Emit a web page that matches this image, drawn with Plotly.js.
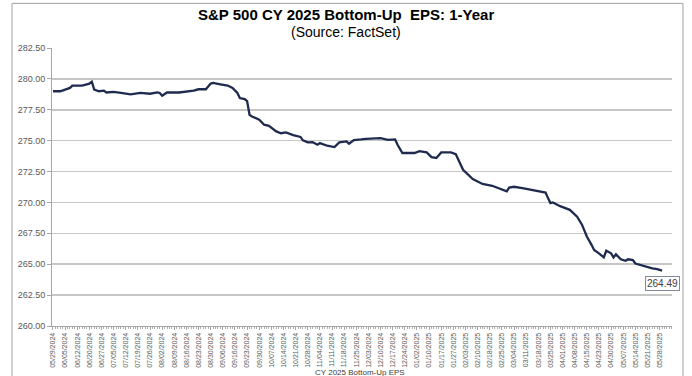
<!DOCTYPE html>
<html>
<head>
<meta charset="utf-8">
<script src="https://cdn.plot.ly/plotly-3.0.1.min.js"></script>
<style>html,body{margin:0;padding:0;background:#fff;}#chart{width:692px;height:376px;}</style>
</head>
<body>
<div id="chart"></div>
<script>
// Trading-day index (0 = 05/29/2024) and CY2025 bottom-up EPS values
const dayIndex = [0,3,7,8,12,15,16,17,19,21,22,25,28,32,36,40,43,44,45,47,52,55,58,60,63,65,66,69,72,74,76,77,79,80,81,82,85,87,89,92,94,96,99,102,103,105,107,109,110,113,116,118,121,122,124,127,129,135,138,141,142,144,149,151,154,156,158,160,164,166,169,173,177,181,186,187,188,190,194,197,201,203,204,205,206,209,213,216,218,220,222,223,225,227,228,230,231,232,234,236,237,239,240,242,245,247,249,251];
const epsValues = [279.00,279.00,279.27,279.46,279.46,279.62,279.78,279.13,279.00,279.05,278.90,278.95,278.86,278.75,278.86,278.80,278.90,278.86,278.64,278.90,278.90,278.95,279.05,279.16,279.16,279.62,279.67,279.56,279.46,279.27,278.86,278.45,278.37,278.20,277.10,276.96,276.70,276.29,276.20,275.75,275.60,275.67,275.45,275.30,275.02,274.86,274.88,274.67,274.80,274.59,274.48,274.86,274.94,274.75,275.05,275.10,275.15,275.20,275.07,275.10,274.67,274.00,274.00,274.15,274.05,273.67,273.60,274.05,274.05,273.90,272.64,271.90,271.50,271.35,271.02,270.90,271.20,271.27,271.13,271.00,270.88,270.80,270.35,269.95,270.00,269.70,269.40,268.85,268.20,267.24,266.55,266.15,265.88,265.55,266.09,265.88,265.55,265.80,265.40,265.28,265.40,265.33,265.06,264.94,264.80,264.66,264.60,264.49];
const tickIndex = [0,5,10,15,20,25,30,35,40,45,50,55,60,65,70,75,80,85,90,95,100,105,110,115,120,125,130,135,140,145,150,155,160,165,170,175,180,185,190,195,200,205,210,215,220,225,230,235,240,245,250];
const tickLabels = ["05/29/2024","06/05/2024","06/12/2024","06/20/2024","06/27/2024","07/05/2024","07/12/2024","07/19/2024","07/26/2024","08/02/2024","08/09/2024","08/16/2024","08/23/2024","08/30/2024","09/06/2024","09/16/2024","09/23/2024","09/30/2024","10/07/2024","10/14/2024","10/21/2024","10/28/2024","11/04/2024","11/11/2024","11/18/2024","11/25/2024","12/03/2024","12/10/2024","12/17/2024","12/24/2024","01/02/2025","01/10/2025","01/17/2025","01/27/2025","02/03/2025","02/10/2025","02/18/2025","02/25/2025","03/04/2025","03/11/2025","03/18/2025","03/25/2025","04/01/2025","04/08/2025","04/15/2025","04/23/2025","04/30/2025","05/07/2025","05/14/2025","05/21/2025","05/28/2025"];
const seriesName = "CY 2025 Bottom-Up EPS";
const chartTitle = "S&P 500 CY 2025 Bottom-Up  EPS: 1-Year";
const chartSubtitle = "(Source: FactSet)";
const lastValue = epsValues[epsValues.length-1];
const lastIndex = dayIndex[dayIndex.length-1];

const trace = {
  x: dayIndex, y: epsValues, type: 'scatter', mode: 'lines', name: seriesName,
  line: {color: '#1f2b4e', width: 2.3}, hoverinfo: 'skip'
};

const layout = {
  width: 692, height: 376,
  margin: {l: 52, r: 20, t: 48, b: 50},
  paper_bgcolor: '#ffffff', plot_bgcolor: '#ffffff',
  showlegend: false,
  font: {family: 'Arial, "Liberation Sans", sans-serif', color: '#595959'},
  xaxis: {
    type: 'linear', range: [-0.4, 255.1],
    tickmode: 'array', tickvals: tickIndex, ticktext: tickLabels,
    tickangle: -90, tickfont: {size: 7, color: '#595959'},
    ticks: 'outside', ticklen: 3, tickcolor: '#a6a6a6',
    minor: {dtick: 1, tick0: 0, ticks: 'outside', ticklen: 2, tickcolor: '#b0b0b0', showgrid: false},
    showline: true, linecolor: '#a6a6a6', linewidth: 1,
    showgrid: false, zeroline: false, fixedrange: true
  },
  yaxis: {
    range: [260, 282.5], dtick: 2.5, tick0: 260, tickformat: '.2f',
    tickfont: {size: 9, color: '#595959'},
    ticks: 'outside', ticklen: 4, tickcolor: '#a6a6a6',
    showline: true, linecolor: '#a6a6a6', linewidth: 1,
    showgrid: true, gridcolor: '#c6c6c6', gridwidth: 1.5,
    zeroline: false, fixedrange: true
  },
  shapes: [{
    type: 'rect', xref: 'paper', yref: 'paper', layer: 'below',
    x0: -0.0645, x1: 1.0177, y0: -0.35, y1: 1.1605,
    line: {color: '#a0a0a0', width: 1}, fillcolor: 'rgba(0,0,0,0)'
  }],
  annotations: [
    {
      x: 0.474, y: 1.122, xref: 'paper', yref: 'paper',
      text: '<b>' + chartTitle + '</b>', showarrow: false,
      xanchor: 'center', yanchor: 'middle',
      font: {size: 15, color: '#000000'}
    },
    {
      x: 0.474, y: 1.056, xref: 'paper', yref: 'paper',
      text: chartSubtitle, showarrow: false,
      xanchor: 'center', yanchor: 'middle',
      font: {size: 14, color: '#000000'}
    },
    {
      x: lastIndex, y: lastValue, xref: 'x', yref: 'y',
      text: lastValue.toFixed(2), showarrow: false,
      xanchor: 'center', yanchor: 'top', yshift: -5,
      font: {size: 10, color: '#404040'},
      bgcolor: '#ffffff', bordercolor: '#7f8a9c', borderwidth: 1, borderpad: 1
    },
    {
      x: 0.421, y: -0.145, xref: 'paper', yref: 'paper',
      text: seriesName, showarrow: false, xanchor: 'left', yanchor: 'top',
      font: {size: 8, color: '#404040'}
    }
  ]
};

Plotly.newPlot('chart', [trace], layout, {staticPlot: true, displayModeBar: false});
</script>
</body>
</html>
